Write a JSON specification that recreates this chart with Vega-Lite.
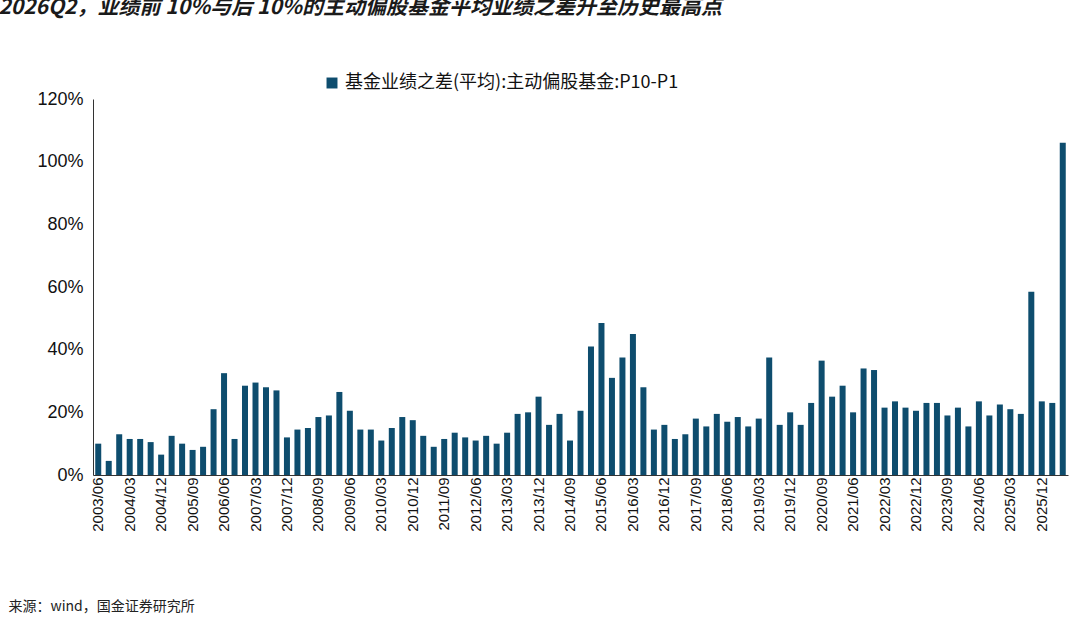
{
"$schema":"https://vega.github.io/schema/vega-lite/v6.json",
"width":975,"height":376,"autosize":"none",
"padding":{"left":93,"top":99,"right":12,"bottom":150},
"background":"white",
"config":{"view":{"stroke":null}},
"title":{"text":"图表4：2026Q2，业绩前 10%与后 10%的主动偏股基金平均业绩之差升至历史最高点","anchor":"start","dx":-85,"offset":56,"font":"Noto Sans CJK SC","fontSize":21,"fontStyle":"italic","fontWeight":"bold","color":"#1a1a1a"},
"data":{"values":[
{"q":"2003/06","v":10},{"q":"2003/09","v":4.5},{"q":"2003/12","v":13},{"q":"2004/03","v":11.5},{"q":"2004/06","v":11.5},{"q":"2004/09","v":10.5},{"q":"2004/12","v":6.5},{"q":"2005/03","v":12.5},{"q":"2005/06","v":10},{"q":"2005/09","v":8},{"q":"2005/12","v":9},
{"q":"2006/03","v":21},{"q":"2006/06","v":32.5},{"q":"2006/09","v":11.5},{"q":"2006/12","v":28.5},{"q":"2007/03","v":29.5},{"q":"2007/06","v":28},{"q":"2007/09","v":27},{"q":"2007/12","v":12},
{"q":"2008/03","v":14.5},{"q":"2008/06","v":15},{"q":"2008/09","v":18.5},{"q":"2008/12","v":19},{"q":"2009/03","v":26.5},{"q":"2009/06","v":20.5},{"q":"2009/09","v":14.5},{"q":"2009/12","v":14.5},
{"q":"2010/03","v":11},{"q":"2010/06","v":15},{"q":"2010/09","v":18.5},{"q":"2010/12","v":17.5},{"q":"2011/03","v":12.5},{"q":"2011/06","v":9},{"q":"2011/09","v":11.5},{"q":"2011/12","v":13.5},
{"q":"2012/03","v":12},{"q":"2012/06","v":11},{"q":"2012/09","v":12.5},{"q":"2012/12","v":10},{"q":"2013/03","v":13.5},{"q":"2013/06","v":19.5},{"q":"2013/09","v":20},{"q":"2013/12","v":25},
{"q":"2014/03","v":16},{"q":"2014/06","v":19.5},{"q":"2014/09","v":11},{"q":"2014/12","v":20.5},{"q":"2015/03","v":41},{"q":"2015/06","v":48.5},{"q":"2015/09","v":31},{"q":"2015/12","v":37.5},
{"q":"2016/03","v":45},{"q":"2016/06","v":28},{"q":"2016/09","v":14.5},{"q":"2016/12","v":16},{"q":"2017/03","v":11.5},{"q":"2017/06","v":13},{"q":"2017/09","v":18},{"q":"2017/12","v":15.5},
{"q":"2018/03","v":19.5},{"q":"2018/06","v":17},{"q":"2018/09","v":18.5},{"q":"2018/12","v":15.5},{"q":"2019/03","v":18},{"q":"2019/06","v":37.5},{"q":"2019/09","v":16},{"q":"2019/12","v":20},
{"q":"2020/03","v":16},{"q":"2020/06","v":23},{"q":"2020/09","v":36.5},{"q":"2020/12","v":25},{"q":"2021/03","v":28.5},{"q":"2021/06","v":20},{"q":"2021/09","v":34},{"q":"2021/12","v":33.5},
{"q":"2022/03","v":21.5},{"q":"2022/06","v":23.5},{"q":"2022/09","v":21.5},{"q":"2022/12","v":20.5},{"q":"2023/03","v":23},{"q":"2023/06","v":23},{"q":"2023/09","v":19},{"q":"2023/12","v":21.5},
{"q":"2024/03","v":15.5},{"q":"2024/06","v":23.5},{"q":"2024/09","v":19},{"q":"2024/12","v":22.5},{"q":"2025/03","v":21},{"q":"2025/06","v":19.5},{"q":"2025/09","v":58.5},{"q":"2025/12","v":23.5},
{"q":"2026/03","v":23},{"q":"2026/06","v":106}
]},
"transform":[{"calculate":"datum.v/100","as":"val"},{"calculate":"'基金业绩之差(平均):主动偏股基金:P10-P1'","as":"s"}],
"mark":{"type":"bar","color":"#0e4d6e","width":6},
"encoding":{
"x":{"field":"q","type":"ordinal","sort":null,"scale":{"paddingInner":0.4,"paddingOuter":0.2},
 "axis":{"labelAngle":-90,"labelFont":"Liberation Sans","labelFontSize":15,"labelColor":"#111","domainColor":"#333","ticks":false,
 "labelExpr":"indexof(['2003/06','2004/03','2004/12','2005/09','2006/06','2007/03','2007/12','2008/09','2009/06','2010/03','2010/12','2011/09','2012/06','2013/03','2013/12','2014/09','2015/06','2016/03','2016/12','2017/09','2018/06','2019/03','2019/12','2020/09','2021/06','2022/03','2022/12','2023/09','2024/06','2025/03','2025/12'], datum.value) >= 0 ? datum.value : ''",
 "title":"来源：wind，国金证券研究所","titleFont":"Noto Sans CJK SC","titleFontSize":14,"titleFontWeight":"normal","titleColor":"#222","titleAnchor":"start","titleX":-85,"titleY":124}},
"y":{"field":"val","type":"quantitative","scale":{"domain":[0,1.2]},
 "axis":{"format":".0%","values":[0,0.2,0.4,0.6,0.8,1,1.2],"grid":false,"title":null,"labelFont":"Liberation Sans","labelFontSize":18,"labelColor":"#111","labelPadding":10,"ticks":false,"domainColor":"#333"}},
"color":{"field":"s","type":"nominal","scale":{"range":["#0e4d6e"]},
 "legend":{"title":null,"orient":"none","legendX":230,"legendY":-25,"labelFont":"Noto Sans CJK SC","labelFontSize":18,"labelColor":"#111","symbolType":"square","symbolSize":120,"labelLimit":600}}
}
}
